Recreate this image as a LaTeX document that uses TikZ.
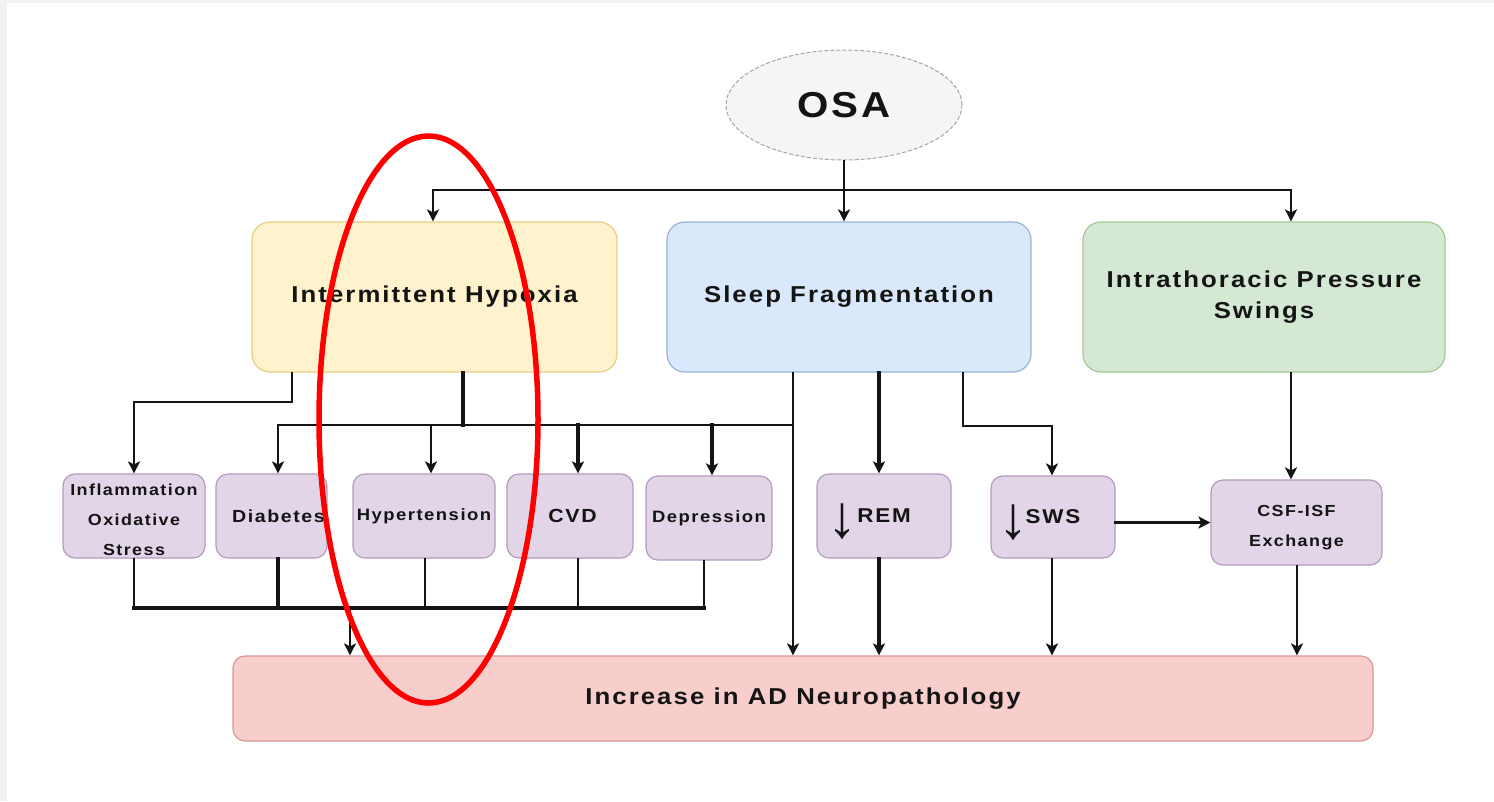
\documentclass[tikz,border=0pt]{standalone}
\usepackage{fontspec}
\setmainfont{Liberation Sans}[LetterSpace=9,FakeStretch=1.12]
\newfontfamily\arrfont{Liberation Sans}
\usetikzlibrary{arrows.meta,shapes.geometric}
\definecolor{yfill}{HTML}{FFF2CC}\definecolor{ydraw}{HTML}{D6B656}
\definecolor{bfill}{HTML}{DAE8FC}\definecolor{bdraw}{HTML}{6C8EBF}
\definecolor{gfill}{HTML}{D5E8D4}\definecolor{gdraw}{HTML}{82B366}
\definecolor{pfill}{HTML}{E1D5E7}\definecolor{pdraw}{HTML}{9673A6}
\definecolor{rfill}{HTML}{F8CECC}\definecolor{rdraw}{HTML}{B85450}
\definecolor{ink}{HTML}{141414}
\newcommand{\dnarrow}{\smash{\llap{\raisebox{-15pt}{\arrfont\bfseries\fontsize{60}{60}\selectfont ↓}}}}
\begin{document}
\begin{tikzpicture}[x=1pt,y=-1pt,
  ell/.style={ellipse, draw=gray!70, dash pattern=on 4pt off 2pt, fill=gray!8, line width=1pt,
    minimum width=236pt, minimum height=110pt, inner sep=0pt, text=ink,
    font=\fontsize{36}{36}\selectfont\bfseries},
  bigbox/.style={rectangle, rounded corners=18pt, line width=1.2pt, minimum height=150pt,
    inner sep=0pt, align=center, text=ink, font=\fontsize{23}{31}\selectfont\bfseries},
  smallbox/.style={rectangle, rounded corners=12pt, line width=1.2pt, fill=pfill, draw=pdraw!60!pfill,
    minimum height=84pt, inner sep=0pt, align=center, text=ink, font=\fontsize{16}{30}\selectfont\bfseries},
  conn/.style={line width=2pt, draw=ink, line cap=rect},
  hv/.style={line width=3.2pt},
  arr/.style={conn, -{Stealth[length=12pt,width=12pt,inset=3pt]}}]
\useasboundingbox (0,0) rectangle (1494,801);
\fill[gray!10] (0,0) rectangle (1494,801);
\fill[white] (7,3) rectangle (1494,801);

\node[ell] (osa) at (844,105) {OSA};
\node[bigbox, fill=yfill, draw=ydraw!60!yfill, minimum width=365pt] (ih) at (434.5,297) {Intermittent Hypoxia};
\node[bigbox, fill=bfill, draw=bdraw!60!bfill, minimum width=364pt] (sf) at (849,297) {Sleep Fragmentation};
\node[bigbox, fill=gfill, draw=gdraw!60!gfill, minimum width=362pt] (ips) at (1264,297) {Intrathoracic Pressure\\Swings};

\node[smallbox, minimum width=142pt] (infl) at (134,516) {\rule{0pt}{20pt}Inflammation\\Oxidative\\Stress};
\node[smallbox, minimum width=111pt, font=\fontsize{17.5}{20}\selectfont\bfseries] (diab) at (271.5,516) {\hspace*{14pt}Diabetes};
\node[smallbox, minimum width=142pt, font=\fontsize{16.5}{20}\selectfont\bfseries] (hyp) at (424,516) {Hypertension};
\node[smallbox, minimum width=126pt, font=\fontsize{19}{20}\selectfont\bfseries] (cvd) at (570,516) {\hspace*{5pt}CVD};
\node[smallbox, minimum width=126pt, font=\fontsize{16.5}{20}\selectfont\bfseries] (dep) at (709,518) {Depression};
\node[smallbox, minimum width=134pt, font=\fontsize{20}{20}\selectfont\bfseries] (rem) at (884,516) {\dnarrow REM};
\node[smallbox, minimum width=124pt, minimum height=82pt, font=\fontsize{20}{20}\selectfont\bfseries] (sws) at (1053,517) {\dnarrow\hspace{-3pt}SWS\hspace*{-3pt}};
\node[smallbox, minimum width=171pt, minimum height=85pt] (csf) at (1296.5,522.5) {\rule{0pt}{22pt}CSF-ISF\\Exchange};
\node[bigbox, rounded corners=12pt, fill=rfill, draw=rdraw!45!rfill, minimum width=1140pt, minimum height=85pt] (ad) at (803,698.5) {Increase in AD Neuropathology};

% OSA branches
\coordinate (tl) at (433,190);
\coordinate (tr) at (1291,190);
\draw[conn] (tl) -- (tr);
\draw[arr] (osa.south) -- (osa.south |- sf.north);
\draw[arr] (tl) -- (tl |- ih.north);
\draw[arr] (tr) -- (tr |- ips.north);

% Intermittent hypoxia
\draw[arr] ([xshift=-142.5pt]ih.south) -- ++(0,29) -| (infl.north);
\coordinate (hb) at (463,425);
\draw[conn, hv] ([xshift=28.5pt]ih.south) -- (hb);
\coordinate (bL) at (278,425);
\coordinate (b2) at (431,425);
\coordinate (b3) at (578,425);
\coordinate (b4) at (712,425);
\coordinate (bR) at (793,425);
\draw[conn] (bL) -- (bR);
\draw[arr] (bL) -- (bL |- diab.north);
\draw[arr] (b2) -- (b2 |- hyp.north);
\draw[arr, hv] (b3) -- (b3 |- cvd.north);
\draw[arr, hv] (b4) -- (b4 |- dep.north);

% Sleep fragmentation
\draw[arr] ([xshift=-56pt]sf.south) -- ([xshift=-56pt]sf.south |- ad.north);
\draw[arr, hv] ([xshift=30pt]sf.south) -- ([xshift=30pt]sf.south |- rem.north);
\draw[arr] ([xshift=114pt]sf.south) -- ++(0,53) -| ([xshift=-1pt]sws.north);

% Intrathoracic pressure
\draw[arr] ([xshift=27pt]ips.south) -- ([xshift=27pt]ips.south |- csf.north);
\draw[arr, hv] (sws.east |- csf.west) -- (csf.west);

% bottom collector
\coordinate (dL) at (134,608);
\coordinate (dR) at (704,608);
\coordinate (dA) at (350,608);
\draw[conn, hv] (dL) -- (dR);
\draw[conn] (infl.south) -- (infl.south |- dL);
\draw[conn, hv] ([xshift=6.5pt]diab.south) -- ([xshift=6.5pt]diab.south |- dL);
\draw[conn] ([xshift=1pt]hyp.south) -- ([xshift=1pt]hyp.south |- dL);
\draw[conn] ([xshift=8pt]cvd.south) -- ([xshift=8pt]cvd.south |- dL);
\draw[conn] ([xshift=-5pt]dep.south) -- ([xshift=-5pt]dep.south |- dL);
\draw[arr] (dA) -- (dA |- ad.north);
\draw[arr, hv] ([xshift=-5pt]rem.south) -- ([xshift=-5pt]rem.south |- ad.north);
\draw[arr] ([xshift=-1pt]sws.south) -- ([xshift=-1pt]sws.south |- ad.north);
\draw[arr] ([xshift=0.5pt]csf.south) -- ([xshift=0.5pt]csf.south |- ad.north);

% red highlight
\draw[red, line width=5.5pt] (428.5,419.5) ellipse [x radius=109.5pt, y radius=283.5pt];
\end{tikzpicture}
\end{document}
